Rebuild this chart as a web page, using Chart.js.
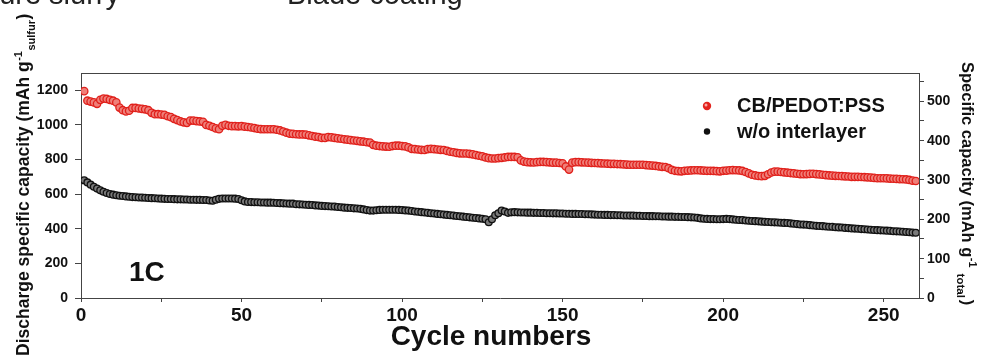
<!DOCTYPE html>
<html>
<head>
<meta charset="utf-8">
<script src="https://cdn.jsdelivr.net/npm/chart.js@4.4.1/dist/chart.umd.min.js"></script>
<style>
html,body{margin:0;padding:0;background:#fff}
</style>
</head>
<body>
<canvas id="capChart" width="981" height="360"></canvas>
<script>
// cycle numbers 1..260
const cycles = Array.from({length: 260}, (_, i) => i + 1)

// CB/PEDOT:PSS interlayer, mAh g-1 (sulfur)
const pedot = [
1195,1140,1135,1130,1122,1145,1152,1150,1145,1140,
1130,1100,1085,1078,1082,1098,1098,1095,1093,1090,
1085,1070,1062,1062,1060,1058,1050,1045,1035,1028,
1020,1015,1012,1025,1025,1022,1020,1018,1000,995,
988,980,975,995,1000,995,993,993,992,993,
990,988,985,982,978,976,975,975,975,975,
972,968,962,955,950,948,946,945,945,944,
940,936,932,930,925,925,930,928,925,922,
920,917,915,912,910,908,905,903,900,898,
885,880,878,876,875,874,878,880,880,878,
876,870,862,860,858,856,855,860,862,860,
858,856,855,850,845,842,838,836,835,835,
833,830,826,822,818,812,808,806,806,808,
810,812,815,815,815,813,795,788,785,784,
783,785,786,786,785,784,782,782,780,778,
760,742,782,785,785,784,783,782,781,780,
779,778,777,776,775,775,774,773,772,771,
770,770,770,770,770,768,766,765,763,760,
758,757,750,740,735,733,732,735,736,737,
738,738,737,736,735,735,734,733,732,735,
736,738,739,738,737,734,728,720,712,708,
705,704,706,715,725,730,730,728,726,724,
722,720,718,716,715,716,717,718,716,714,
712,710,708,707,706,705,704,703,702,700,
700,700,699,698,697,696,694,692,692,692,
691,690,689,688,687,686,685,682,678,676
]

// without interlayer
const bare = [
680,668,655,643,632,622,614,607,601,597,
594,591,589,587,585,583,582,581,580,579,
578,577,576,575,574,573,572,572,571,570,
570,569,569,568,568,567,567,566,566,563,
562,568,573,575,575,575,575,574,572,565,
558,555,554,553,553,552,552,551,551,550,
549,548,547,546,545,545,542,541,540,539,
538,537,535,534,532,531,530,529,528,526,
524,522,521,520,518,517,515,512,508,505,
505,507,509,510,510,510,510,510,509,508,
506,505,503,500,498,496,494,492,490,488,
486,484,482,480,478,476,474,472,470,468,
466,464,462,460,458,455,438,455,478,490,
505,500,492,495,496,495,494,494,493,493,
492,492,491,491,490,490,489,489,488,488,
487,487,486,486,485,485,484,484,483,482,
481,481,480,480,479,479,478,478,477,477,
476,476,475,475,474,474,473,473,472,472,
471,471,470,470,469,469,468,468,467,466,
465,463,460,458,457,456,456,455,455,456,
457,456,454,452,451,450,448,446,445,444,
443,441,440,439,438,437,436,435,434,433,
431,429,427,425,424,423,421,419,417,416,
415,413,412,411,409,408,407,405,404,402,
401,400,398,397,396,394,393,392,391,390,
389,388,386,385,384,383,381,380,378,377
]

const seriesNames = ["CB/PEDOT:PSS", "w/o interlayer"]

const FONT = '"Liberation Sans", Arial, sans-serif'
const AXIS = "#444"
const INK = "#111"

function pts(vals){
  return vals.map((v, i) => ({x: cycles[i], y: v}))
}

// text with super/subscripts, rotated
function drawTitle(ctx, x, y, rot, parts){
  ctx.save()
  ctx.translate(x, y)
  ctx.rotate(rot)
  ctx.fillStyle = INK
  ctx.textAlign = "left"
  ctx.textBaseline = "alphabetic"
  let cx = 0
  parts.forEach(p => {
    ctx.font = "bold " + p.size + "px " + FONT
    cx += p.gap || 0
    ctx.fillText(p.text, cx, p.dy || 0)
    cx += ctx.measureText(p.text).width
  })
  ctx.restore()
}

const extras = {
  id: "extras",
  afterDraw(chart){
    const ctx = chart.ctx
    const a = chart.chartArea
    ctx.save()

    // frame top
    ctx.strokeStyle = AXIS
    ctx.lineWidth = 1
    ctx.beginPath()
    ctx.moveTo(a.left, a.top + 0.5)
    ctx.lineTo(a.right, a.top + 0.5)
    ctx.stroke()

    // cut-off captions from the panel above
    ctx.fillStyle = "#222"
    ctx.font = "29px " + FONT
    ctx.textAlign = "right"
    ctx.fillText("Mixture slurry", 120, 4)
    ctx.textAlign = "left"
    ctx.fillText("Blade coating", 287, 4)

    // legend
    ctx.beginPath()
    ctx.arc(707, 106, 4.2, 0, Math.PI * 2)
    ctx.fillStyle = "#e3231d"
    ctx.fill()
    ctx.beginPath()
    ctx.arc(706, 105, 1.5, 0, Math.PI * 2)
    ctx.fillStyle = "#f7a9a4"
    ctx.fill()
    ctx.beginPath()
    ctx.arc(707, 131.5, 3.2, 0, Math.PI * 2)
    ctx.fillStyle = "#111"
    ctx.fill()
    ctx.fillStyle = INK
    ctx.font = "bold 20px " + FONT
    ctx.textBaseline = "middle"
    ctx.fillText(seriesNames[0], 737, 106)
    ctx.fillText(seriesNames[1], 737, 132)

    // rate label
    ctx.textBaseline = "alphabetic"
    ctx.font = "bold 28px " + FONT
    ctx.fillText("1C", 129, 281)

    // x axis title
    ctx.textAlign = "center"
    ctx.font = "bold 28px " + FONT
    ctx.fillText("Cycle numbers", 491, 345)
    ctx.restore()

    drawTitle(ctx, 29, 356, -Math.PI / 2, [
      {text: "Discharge specific capacity (mAh g", size: 17.5},
      {text: "-1", size: 11, dy: -7, gap: 0.5},
      {text: "sulfur", size: 11, dy: 6, gap: 0.5},
      {text: ")", size: 17.5, gap: 0.5}
    ])
    drawTitle(ctx, 962, 62, Math.PI / 2, [
      {text: "Specific capacity (mAh g", size: 16.5},
      {text: "-1", size: 11, dy: -7, gap: 0.5},
      {text: "total", size: 11.5, dy: 5, gap: 6},
      {text: ")", size: 16.5, gap: 2}
    ])
  }
}

const tickFont = size => ({family: FONT, size: size, weight: "bold"})

new Chart(document.getElementById("capChart"), {
  type: "scatter",
  data: {
    datasets: [{
      label: seriesNames[0],
      data: pts(pedot),
      pointRadius: 3.7,
      pointBorderWidth: 1.3,
      pointBorderColor: "#e0201b",
      pointBackgroundColor: "#ef7f79",
      showLine: false
    }, {
      label: seriesNames[1],
      data: pts(bare),
      pointRadius: 3.4,
      pointBorderWidth: 1.3,
      pointBorderColor: "#111",
      pointBackgroundColor: "#7a7a7a",
      showLine: false
    }]
  },
  options: {
    responsive: false,
    animation: false,
    devicePixelRatio: 1,
    layout: {padding: {top: 73, right: 0, left: 0, bottom: 0}},
    plugins: {legend: {display: false}, tooltip: {enabled: false}},
    scales: {
      x: {
        type: "linear",
        min: 0, max: 261,
        grid: {drawOnChartArea: false, color: AXIS, tickLength: 4},
        border: {color: AXIS, width: 1},
        ticks: {
          stepSize: 25, includeBounds: false, padding: 2,
          color: INK, font: tickFont(19), maxRotation: 0,
          callback: v => v % 50 === 0 ? v : ""
        },
        afterFit: s => { s.height = 62 }
      },
      y: {
        position: "left",
        min: 0, max: 1300,
        grid: {drawOnChartArea: false, color: AXIS, tickLength: 6},
        border: {color: AXIS, width: 1},
        ticks: {
          stepSize: 100, includeBounds: false, padding: 7,
          color: INK, font: tickFont(14),
          callback: v => v % 200 === 0 ? v : ""
        },
        afterFit: s => { s.width = 81 }
      },
      y1: {
        position: "right",
        min: 0, max: 572,
        grid: {drawOnChartArea: false, color: AXIS, tickLength: 5},
        border: {color: AXIS, width: 1},
        ticks: {
          stepSize: 50, includeBounds: false, padding: 3,
          color: INK, font: tickFont(14),
          callback: v => v % 100 === 0 ? v : ""
        },
        afterFit: s => { s.width = 62 }
      }
    }
  },
  plugins: [extras]
})
</script>
</body>
</html>
